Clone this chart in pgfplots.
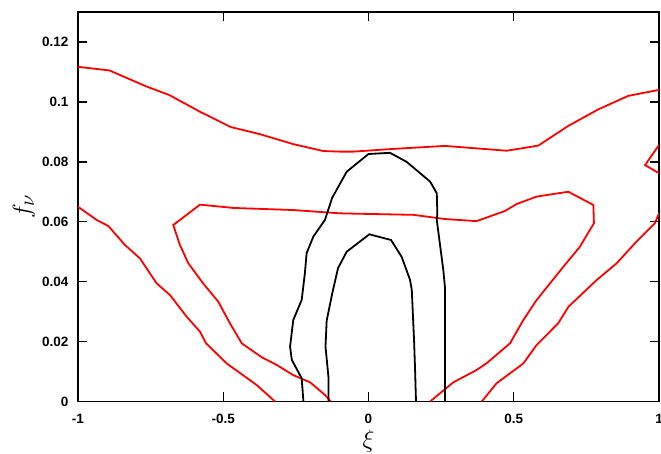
\documentclass[border=0pt]{standalone}
\usepackage{fontspec}
\setmainfont{Liberation Sans}
\usepackage{pgfplots}
\pgfplotsset{compat=1.18}
\begin{document}
\begin{tikzpicture}
\begin{axis}[
  name=ax,
  scale only axis,
  width=581pt, height=389.5pt,
  xmin=-1, xmax=1, ymin=0, ymax=0.13,
  xtick={-1,-0.5,0,0.5,1},
  ytick={0,0.02,0.04,0.06,0.08,0.1,0.12},
  xticklabels={-1,-0.5,0,0.5,1},
  yticklabels={0,0.02,0.04,0.06,0.08,0.1,0.12},
  tick align=inside,
  major tick length=9pt,
  axis line style={line width=1.4pt},
  every tick/.style={line width=1.4pt, black},
  tick label style={font=\fontsize{13.5}{16}\selectfont\bfseries},
  xticklabel style={yshift=-9pt},
  yticklabel style={xshift=-6pt},
  every axis x label/.style={at={(axis description cs:0.5,0)}, yshift=-40pt, anchor=center},
  every axis y label/.style={at={(axis description cs:0,0.5)}, xshift=-54pt, rotate=90, anchor=center},
  xlabel={\fontsize{30}{34}\selectfont$\xi$},
  ylabel={\fontsize{30}{34}\selectfont$f_\nu$},
  clip=true,
]
% red top curve
\addplot[red, line width=1.8pt] coordinates {
(-1.0,0.1117) (-0.892,0.1105) (-0.7635,0.1051) (-0.686,0.1023) (-0.580,0.0967)
(-0.474,0.0916) (-0.373,0.0892) (-0.259,0.0859) (-0.156,0.0836) (-0.098,0.0834)
(-0.052,0.0834) (0.085,0.0843) (0.263,0.0853) (0.476,0.0837) (0.5845,0.0854)
(0.688,0.0920) (0.791,0.0975) (0.894,0.1020) (1.0,0.1040)};
% red right small loop
\addplot[red, line width=1.8pt] coordinates {
(1.0,0.0856) (0.952,0.0789) (1.0,0.0762)};
% red outer left
\addplot[red, line width=1.8pt] coordinates {
(-1.0,0.065) (-0.936,0.0606) (-0.896,0.0586) (-0.838,0.0522) (-0.787,0.0478)
(-0.729,0.0394) (-0.683,0.0355) (-0.626,0.0283) (-0.580,0.0233) (-0.559,0.0194)
(-0.488,0.0127) (-0.385,0.0055) (-0.322,0.0)};
% red outer right
\addplot[red, line width=1.8pt] coordinates {
(0.390,0.0) (0.441,0.0061) (0.533,0.0127) (0.579,0.0189) (0.653,0.0261)
(0.688,0.0316) (0.786,0.0406) (0.854,0.0461) (0.917,0.0528) (0.986,0.0595) (1.0,0.0628)};
% red middle arch
\addplot[red, line width=1.8pt] coordinates {
(-0.130,0.0) (-0.150,0.0022) (-0.201,0.0064) (-0.259,0.0088) (-0.316,0.0122)
(-0.368,0.0148) (-0.436,0.0194) (-0.477,0.0261) (-0.517,0.0333) (-0.569,0.0394)
(-0.620,0.0461) (-0.649,0.0522) (-0.672,0.0589) (-0.580,0.0657) (-0.465,0.0646)
(-0.259,0.0639) (-0.098,0.0628) (-0.052,0.0627) (0.154,0.0623) (0.263,0.0609)
(0.372,0.0602) (0.470,0.0636) (0.510,0.0659) (0.579,0.0684) (0.688,0.0700)
(0.774,0.0656) (0.776,0.0595) (0.728,0.0517) (0.671,0.0450) (0.579,0.0339)
(0.533,0.0272) (0.487,0.0194) (0.407,0.0128) (0.372,0.0105) (0.292,0.0064) (0.212,0.0)};
% black outer
\addplot[black, line width=1.8pt] coordinates {
(-0.224,0.0) (-0.230,0.0077) (-0.264,0.0139) (-0.270,0.0183) (-0.259,0.0272)
(-0.230,0.0339) (-0.219,0.0428) (-0.213,0.0495) (-0.190,0.0550) (-0.150,0.0606)
(-0.125,0.0680) (-0.075,0.0767) (0.0,0.0826) (0.074,0.0830) (0.131,0.0800)
(0.212,0.0734) (0.235,0.0695) (0.237,0.0628) (0.235,0.0606) (0.2575,0.0439)
(0.263,0.0383) (0.263,0.0)};
% black inner
\addplot[black, line width=1.8pt] coordinates {
(-0.138,0.0) (-0.138,0.0083) (-0.148,0.0183) (-0.144,0.0270) (-0.125,0.0360)
(-0.105,0.0445) (-0.075,0.0500) (0.003,0.0558) (0.0775,0.0539) (0.114,0.0483)
(0.143,0.0406) (0.149,0.0372) (0.157,0.0200) (0.160,0.0116) (0.1635,0.0)};
\end{axis}
\pgfresetboundingbox
\path ([xshift=-78pt,yshift=-52.5pt]ax.south west) rectangle ([xshift=2pt,yshift=12pt]ax.north east);
\end{tikzpicture}
\end{document}
